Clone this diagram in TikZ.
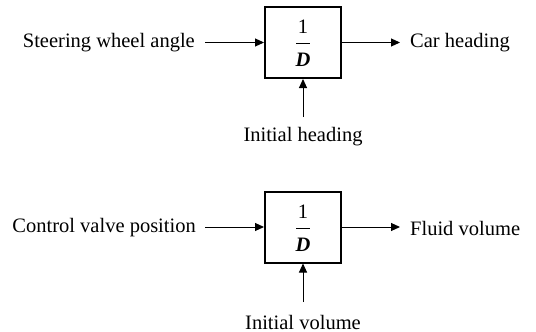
\documentclass[tikz,border=0pt]{standalone}
\usepackage{fontspec}
\setmainfont{Liberation Serif}
\usetikzlibrary{arrows.meta}
\begin{document}
\begin{tikzpicture}[x=1pt,y=-1pt,
  font=\fontsize{20.5}{24}\selectfont,
  block/.style={draw, line width=2pt, minimum width=76pt, minimum height=71pt, inner sep=0pt},
  sig/.style={line width=1pt, -{Triangle[length=9pt,width=8pt]}},
  lbl/.style={inner sep=0pt}]
\useasboundingbox (0,0) rectangle (536,332);
% first integrator: steering wheel angle to car heading
\node[block] (b1) at (303,42.5) {};
\node[lbl] (f1n) at (303,27) {1};
\draw[line width=0.8pt] (296,43) -- (310,43);
\node[lbl] (f1d) at (303,60) {\textbf{\textit{D}}};
\node[lbl, anchor=east] (in1) at (195,43) {Steering wheel angle};
\node[lbl, anchor=west] (out1) at (410,43) {Car heading};
\node[lbl] (ic1) at (303,137) {Initial heading};
\coordinate (s1) at (205,42.5);
\coordinate (e1) at (400,42.5);
\coordinate (u1) at (303,117);
\draw[sig] (s1) -- (b1.west);
\draw[sig] (b1.east) -- (e1);
\draw[sig] (u1) -- (b1.south);
% second integrator: control valve position to fluid volume
\node[block] (b2) at (303,227) {};
\node[lbl] (f2n) at (303,212) {1};
\draw[line width=0.8pt] (296,228) -- (310,228);
\node[lbl] (f2d) at (303,245) {\textbf{\textit{D}}};
\node[lbl, anchor=east] (in2) at (196,228) {Control valve position};
\node[lbl, anchor=west] (out2) at (410,228) {Fluid volume};
\node[lbl] (ic2) at (303,322) {Initial volume};
\coordinate (s2) at (205,227);
\coordinate (e2) at (400,227);
\coordinate (u2) at (303,302);
\draw[sig] (s2) -- (b2.west);
\draw[sig] (b2.east) -- (e2);
\draw[sig] (u2) -- (b2.south);
\end{tikzpicture}
\end{document}
